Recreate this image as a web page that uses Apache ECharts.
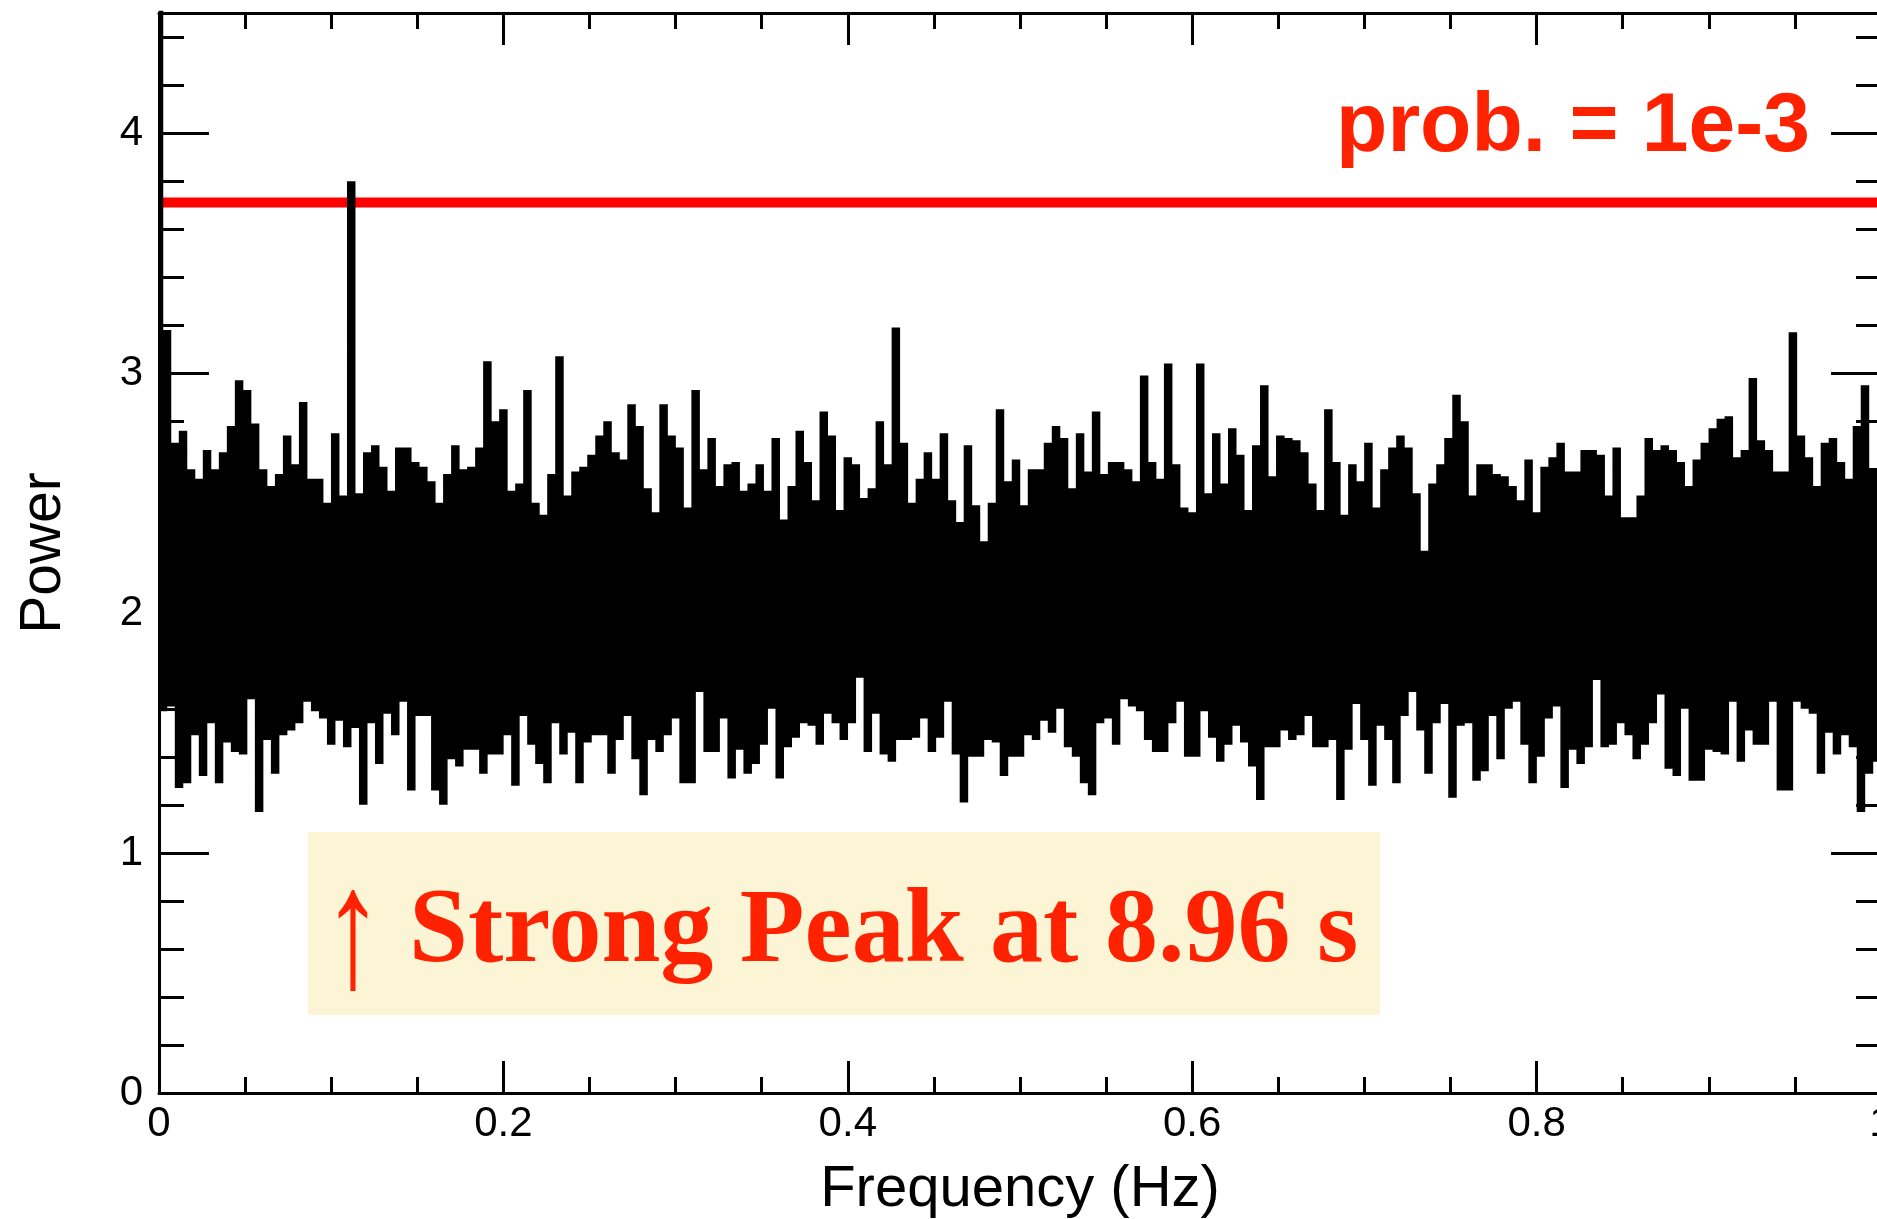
<!DOCTYPE html>
<html>
<head>
<meta charset="utf-8">
<style>
html,body{margin:0;padding:0;background:#fff;}
#chart{width:1877px;height:1219px;}
</style>
<script src="https://cdn.jsdelivr.net/npm/echarts@6/dist/echarts.min.js"></script>
</head>
<body>
<div id="chart"></div>
<script>
// Upper envelope of the power spectrum (even bins)
const upper = [
4.6,3.17,2.70,2.75,2.59,2.55,2.67,2.59,2.66,2.77,
2.96,2.92,2.78,2.59,2.52,2.57,2.73,2.61,2.87,2.55,
2.55,2.45,2.74,2.48,3.79,2.49,2.66,2.69,2.60,2.50,
2.68,2.68,2.62,2.60,2.54,2.45,2.57,2.69,2.59,2.60,
2.68,3.04,2.79,2.84,2.50,2.53,2.92,2.45,2.40,2.57,
3.06,2.48,2.58,2.60,2.65,2.73,2.79,2.66,2.63,2.86,
2.77,2.51,2.41,2.86,2.73,2.68,2.43,2.92,2.59,2.72,
2.52,2.61,2.62,2.50,2.53,2.61,2.50,2.72,2.38,2.52,
2.75,2.62,2.46,2.83,2.73,2.42,2.64,2.61,2.47,2.51,
2.79,2.61,3.18,2.70,2.45,2.55,2.66,2.55,2.74,2.46,
2.37,2.69,2.44,2.29,2.45,2.84,2.54,2.63,2.44,2.59,
2.59,2.70,2.77,2.72,2.51,2.74,2.58,2.83,2.57,2.62,
2.62,2.59,2.54,2.98,2.62,2.55,3.03,2.61,2.43,2.41,
3.03,2.49,2.74,2.53,2.76,2.65,2.42,2.69,2.94,2.56,
2.73,2.72,2.71,2.66,2.53,2.42,2.84,2.62,2.40,2.61,
2.54,2.70,2.43,2.59,2.68,2.73,2.68,2.49,2.25,2.53,
2.61,2.72,2.90,2.79,2.48,2.61,2.61,2.57,2.56,2.52,
2.46,2.63,2.41,2.60,2.64,2.70,2.58,2.58,2.67,2.67,
2.65,2.48,2.68,2.39,2.39,2.48,2.72,2.67,2.69,2.67,
2.62,2.52,2.63,2.70,2.76,2.80,2.81,2.64,2.67,2.97,
2.71,2.67,2.58,2.58,3.16,2.73,2.64,2.52,2.70,2.72,
2.62,2.55,2.77,2.94,2.59
];
// Lower envelope of the power spectrum (odd bins)
const lower = [
1.60,1.62,1.28,1.30,1.50,1.33,1.55,1.30,1.47,1.43,
1.42,1.65,1.18,1.48,1.34,1.50,1.52,1.55,1.64,1.60,
1.57,1.46,1.56,1.45,1.53,1.21,1.55,1.38,1.59,1.50,
1.64,1.27,1.58,1.58,1.27,1.21,1.40,1.37,1.44,1.44,
1.34,1.42,1.42,1.50,1.29,1.58,1.46,1.38,1.30,1.55,
1.42,1.51,1.30,1.47,1.50,1.50,1.34,1.48,1.58,1.40,
1.25,1.48,1.43,1.50,1.57,1.30,1.30,1.68,1.43,1.43,
1.57,1.32,1.44,1.34,1.38,1.46,1.61,1.32,1.45,1.49,
1.55,1.54,1.46,1.59,1.55,1.48,1.55,1.74,1.43,1.59,
1.42,1.39,1.48,1.48,1.49,1.57,1.43,1.49,1.64,1.42,
1.22,1.41,1.41,1.48,1.47,1.33,1.41,1.41,1.50,1.48,
1.56,1.51,1.61,1.45,1.41,1.30,1.25,1.55,1.57,1.46,
1.65,1.62,1.60,1.48,1.43,1.43,1.55,1.64,1.41,1.41,
1.60,1.49,1.39,1.46,1.54,1.47,1.37,1.23,1.45,1.45,
1.52,1.48,1.50,1.58,1.45,1.45,1.48,1.23,1.44,1.63,
1.48,1.29,1.54,1.48,1.30,1.58,1.68,1.52,1.34,1.55,
1.63,1.24,1.54,1.55,1.31,1.35,1.58,1.40,1.61,1.64,
1.46,1.30,1.41,1.57,1.62,1.28,1.44,1.38,1.45,1.73,
1.45,1.46,1.55,1.50,1.40,1.46,1.55,1.67,1.36,1.33,
1.61,1.31,1.31,1.44,1.43,1.42,1.64,1.39,1.52,1.46,
1.46,1.64,1.27,1.27,1.64,1.61,1.59,1.34,1.51,1.42,
1.50,1.45,1.18,1.34,1.39
];
const threshold = 3.71;          // prob. = 1e-3 level
const freqMin = 0, freqMax = 1;
const powerMin = 0, powerMax = 4.5;
const thresholdLabel = 'prob. = 1e-3';
const peakArrow = '\u2191';
const peakLabel = 'Strong Peak at 8.96 s';

// interleave into one spectrum on a regular frequency grid
const power = [];
for (let k = 0; k < upper.length; k++) { power.push(upper[k], lower[k]); }
const nBins = power.length;
const spectrum = power.map((v, i) => [freqMax * i / nBins, v]);

const black = '#000';
const tickFont = '"Liberation Sans", Arial, Helvetica, sans-serif';

function xAx(pos, showLabel) {
  return {
    type: 'value', position: pos, min: freqMin, max: freqMax, interval: 0.2,
    axisLine: { show: true, onZero: false, lineStyle: { color: black, width: 3 } },
    axisTick: { show: true, inside: true, length: 32, lineStyle: { color: black, width: 3 } },
    minorTick: { show: true, splitNumber: 4, length: 16, lineStyle: { color: black, width: 3 } },
    splitLine: { show: false }, minorSplitLine: { show: false },
    axisLabel: { show: showLabel, color: black, fontSize: 42, fontFamily: tickFont, margin: 10 },
    name: showLabel ? 'Frequency (Hz)' : '',
    nameLocation: 'middle', nameGap: 68,
    nameTextStyle: { color: black, fontSize: 58, fontFamily: tickFont }
  };
}
function yAx(pos, interval, len, showLabel, withName) {
  return {
    type: 'value', position: pos, min: powerMin, max: powerMax, interval: interval,
    axisLine: { show: true, onZero: false, lineStyle: { color: black, width: 3 } },
    axisTick: { show: true, inside: true, length: len, lineStyle: { color: black, width: 3 } },
    minorTick: { show: false }, splitLine: { show: false },
    axisLabel: { show: showLabel, color: black, fontSize: 42, fontFamily: tickFont, margin: 16, showMaxLabel: false },
    name: withName ? 'Power' : '',
    nameLocation: 'middle', nameGap: 86, nameRotate: 90,
    nameTextStyle: { color: black, fontSize: 57, fontFamily: tickFont }
  };
}

const chart = echarts.init(document.getElementById('chart'), null, { renderer: 'canvas' });
chart.setOption({
  animation: false,
  backgroundColor: '#fff',
  grid: { left: 159, top: 13, width: 1722, height: 1080, containLabel: false, outerBoundsMode: 'none' },
  xAxis: [xAx('bottom', true), xAx('top', false)],
  yAxis: [
    yAx('left', 1, 50, true, true),
    yAx('left', 0.2, 25, false, false),
    yAx('right', 1, 50, false, false),
    yAx('right', 0.2, 25, false, false)
  ],
  series: [
    {
      type: 'line', name: 'threshold', xAxisIndex: 0, yAxisIndex: 0, z: 1,
      data: [[freqMin, threshold], [freqMax, threshold]],
      symbol: 'none', silent: true,
      lineStyle: { color: '#ff0000', width: 10 }
    },
    {
      type: 'line', name: 'power', xAxisIndex: 0, yAxisIndex: 0, z: 2,
      data: spectrum, step: 'middle', symbol: 'none', silent: true, clip: true,
      sampling: null,
      lineStyle: { color: black, width: 4.5, join: 'miter' }
    }
  ],
  graphic: [
    { type: 'rect', z: 10, shape: { x: 308, y: 832, width: 1072, height: 183 }, style: { fill: '#fbf5d6' } },
    { type: 'text', z: 11, x: 353, y: 941, scaleY: 1.4,
      style: { text: peakArrow, fill: '#ff2200',
        font: '122px "Liberation Serif", "Times New Roman", Times, serif',
        align: 'center', verticalAlign: 'middle', textAlign: 'center', textVerticalAlign: 'middle' } },
    { type: 'text', z: 11, x: 409, y: 934,
      style: { text: peakLabel, fill: '#ff2200',
        font: 'bold 106px "Liberation Serif", "Times New Roman", Times, serif',
        align: 'left', verticalAlign: 'middle', textAlign: 'left', textVerticalAlign: 'middle' } },
    { type: 'text', z: 11, x: 1573, y: 128,
      style: { text: thresholdLabel, fill: '#ff2200',
        font: 'bold 84px "Liberation Sans", Arial, Helvetica, sans-serif',
        align: 'center', verticalAlign: 'middle', textAlign: 'center', textVerticalAlign: 'middle' } }
  ]
});
</script>
</body>
</html>
